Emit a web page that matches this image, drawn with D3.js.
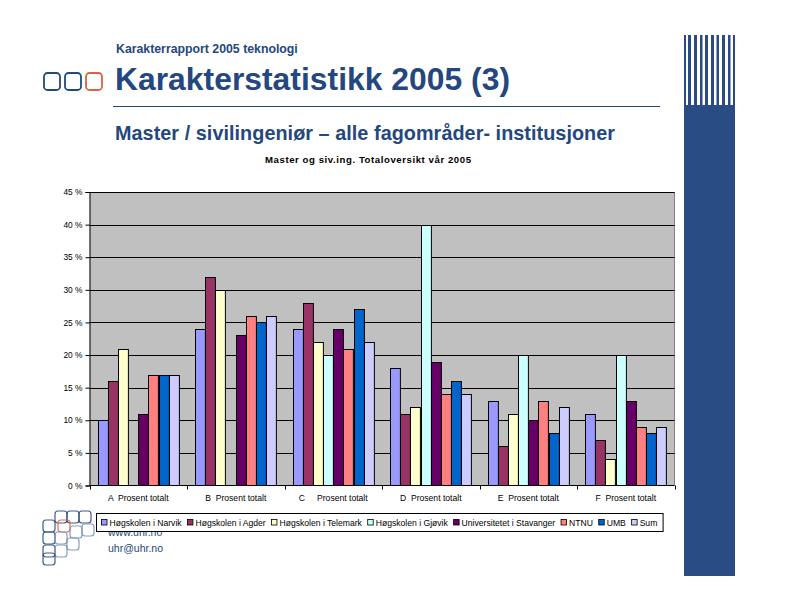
<!DOCTYPE html>
<html><head><meta charset="utf-8">
<script src="https://cdn.jsdelivr.net/npm/d3@7"></script>
<style>body{margin:0;background:#fff}svg{display:block;font-family:Arial,"Liberation Sans",sans-serif}</style>
</head><body><svg id="c" width="792" height="612"></svg>
<script>
const categories = ["A  Prosent totalt","B  Prosent totalt","C     Prosent totalt","D  Prosent totalt","E  Prosent totalt","F  Prosent totalt"];
const series = ["Høgskolen i Narvik","Høgskolen i Agder","Høgskolen i Telemark","Høgskolen i Gjøvik","Universitetet i Stavanger","NTNU","UMB","Sum"];
const colors = ["#9999ff","#993366","#ffffcc","#ccffff","#660066","#ff8080","#0066cc","#ccccff"];
const narvik    = [10,24,24,18,13,11];
const agder     = [16,32,28,11,6,7];
const telemark  = [21,30,22,12,11,4];
const gjovik    = [0,0,20,40,20,20];
const stavanger = [11,23,24,19,10,13];
const ntnu      = [17,26,21,14,13,9];
const umb       = [17,25,27,16,8,8];
const sum       = [17,26,22,14,12,9];
const yTicks = [0,5,10,15,20,25,30,35,40,45];
const values = [narvik,agder,telemark,gjovik,stavanger,ntnu,umb,sum];

const svg = d3.select("#c");
const blue = "#2a4c85";
const titleBlue = "#24477f";

// right panel
const stripes = [[684,686],[688,691],[694,697],[700,702.5],[705,708],[711,714],[716.5,719],[722,725],[728,730.5],[733,735]];
svg.selectAll("rect.stripe").data(stripes).join("rect").attr("class","stripe")
  .attr("x",d=>d[0]).attr("y",35).attr("width",d=>d[1]-d[0]).attr("height",71).attr("fill",blue);
svg.append("rect").attr("x",684).attr("y",105).attr("width",51).attr("height",471).attr("fill",blue);

// header logo
[[44,"#1f4a7a"],[65,"#1f4a7a"],[86,"#e0603f"]].forEach(([x,c])=>{
  svg.append("rect").attr("x",x).attr("y",73).attr("width",16).attr("height",17).attr("rx",3.5)
    .attr("fill","none").attr("stroke",c).attr("stroke-width",1.8);
});

svg.append("text").attr("x",116).attr("y",53).attr("font-size",12.3).attr("font-weight","bold").attr("fill",titleBlue).text("Karakterrapport 2005 teknologi");
svg.append("text").attr("x",115).attr("y",90).attr("font-size",31.8).attr("font-weight","bold").attr("fill",titleBlue).attr("textLength",395).text("Karakterstatistikk 2005 (3)");
svg.append("line").attr("x1",113).attr("x2",660).attr("y1",106.5).attr("y2",106.5).attr("stroke",titleBlue).attr("stroke-width",1);
svg.append("text").attr("x",115).attr("y",140).attr("font-size",19.8).attr("font-weight","bold").attr("fill",titleBlue).attr("textLength",500).text("Master / sivilingeniør – alle fagområder- institusjoner");
svg.append("text").attr("x",265).attr("y",163).attr("font-size",9.6).attr("font-weight","bold").attr("fill","#000").attr("textLength",206).text("Master og siv.ing. Totaloversikt vår 2005");

// chart
const L=89.5, R=674.5, T=192, B=485.5;
const y = d3.scaleLinear().domain([0,45]).range([B,T]);
const x0 = d3.scaleBand().domain(categories).range([L,R]).padding(0);
const x1 = d3.scaleBand().domain(series).range([8, x0.bandwidth()-8]).padding(0);

svg.append("rect").attr("x",L).attr("y",T).attr("width",R-L).attr("height",B-T).attr("fill","#c0c0c0");
svg.append("line").attr("x1",R).attr("x2",R).attr("y1",T).attr("y2",B).attr("stroke","#808080");
svg.selectAll("line.grid").data(yTicks.filter(t=>t>0)).join("line").attr("class","grid")
  .attr("x1",L).attr("x2",R).attr("y1",d=>Math.round(y(d))+0.5).attr("y2",d=>Math.round(y(d))+0.5).attr("stroke","#000").attr("stroke-width",1);

const g = svg.append("g");
categories.forEach((c,ci)=>{
  series.forEach((s,si)=>{
    const v = values[si][ci];
    if(!v) return;
    g.append("rect").attr("x",Math.round(x0(c)+x1(s))+0.5).attr("y",Math.round(y(v))+0.5)
      .attr("width",x1.bandwidth()-0.3).attr("height",B-Math.round(y(v))-0.5)
      .attr("fill",colors[si]).attr("stroke","#000").attr("stroke-width",1);
  });
});

const yAxis = svg.append("g").attr("transform",`translate(${L},0)`)
  .call(d3.axisLeft(y).tickValues(yTicks).tickFormat(d=>d+" %").tickSize(4).tickPadding(3));
yAxis.select(".domain").attr("stroke","#000");
yAxis.selectAll("text").attr("font-size",8.4).attr("font-family","Arial,'Liberation Sans',sans-serif").attr("fill","#000");

svg.append("line").attr("x1",L).attr("x2",R).attr("y1",B).attr("y2",B).attr("stroke","#000");
const sep = categories.map(c=>x0(c)).concat([R]);
svg.selectAll("line.sep").data(sep).join("line").attr("class","sep")
  .attr("x1",d=>Math.round(d)+0.5).attr("x2",d=>Math.round(d)+0.5).attr("y1",B).attr("y2",B+4).attr("stroke","#000");
svg.selectAll("text.cat").data(categories).join("text").attr("class","cat")
  .attr("x",d=>x0(d)+x0.bandwidth()/2).attr("y",501).attr("text-anchor","middle")
  .attr("font-size",8.6).attr("fill","#000").attr("xml:space","preserve").style("white-space","pre").text(d=>d);

// footer
svg.append("text").attr("x",108).attr("y",536).attr("font-size",10.5).attr("fill",titleBlue).text("www.uhr.no");
svg.append("text").attr("x",108).attr("y",552).attr("font-size",10.5).attr("fill",titleBlue).text("uhr@uhr.no");
const fl = [[55,511,"#2a4a80"],[67,511,"#2a4a80"],[79,511,"#2a4a80"],[43,520,"#2a4a80"],[58,520,"#e0603f"],[70,526,"#7e92b6"],[82,524,"#7e92b6"],[43,532,"#2a4a80"],[55,532,"#7e92b6"],[67,538,"#7e92b6"],[43,545,"#2a4a80"],[55,545,"#7e92b6"],[43,553,"#2a4a80"]];
fl.forEach(([x,yy,c])=>{
  svg.append("rect").attr("x",x).attr("y",yy).attr("width",12).attr("height",12).attr("rx",3)
    .attr("fill","none").attr("stroke",c).attr("stroke-width",1.2).attr("opacity",0.9);
});

// legend
const lg = svg.append("g");
const box = lg.append("rect").attr("x",96.5).attr("y",513.5).attr("height",18).attr("fill","#fff").attr("stroke","#000");
let cx = 101;
series.forEach((s,i)=>{
  lg.append("rect").attr("x",cx+0.5).attr("y",519.5).attr("width",5.5).attr("height",5.5).attr("fill",colors[i]).attr("stroke","#000").attr("stroke-width",0.8);
  const t = lg.append("text").attr("x",cx+8.5).attr("y",526).attr("font-size",8.6).attr("fill","#000").text(s);
  cx += 8.5 + t.node().getComputedTextLength() + 5.3;
});
box.attr("width",cx-96);
</script></body></html>
